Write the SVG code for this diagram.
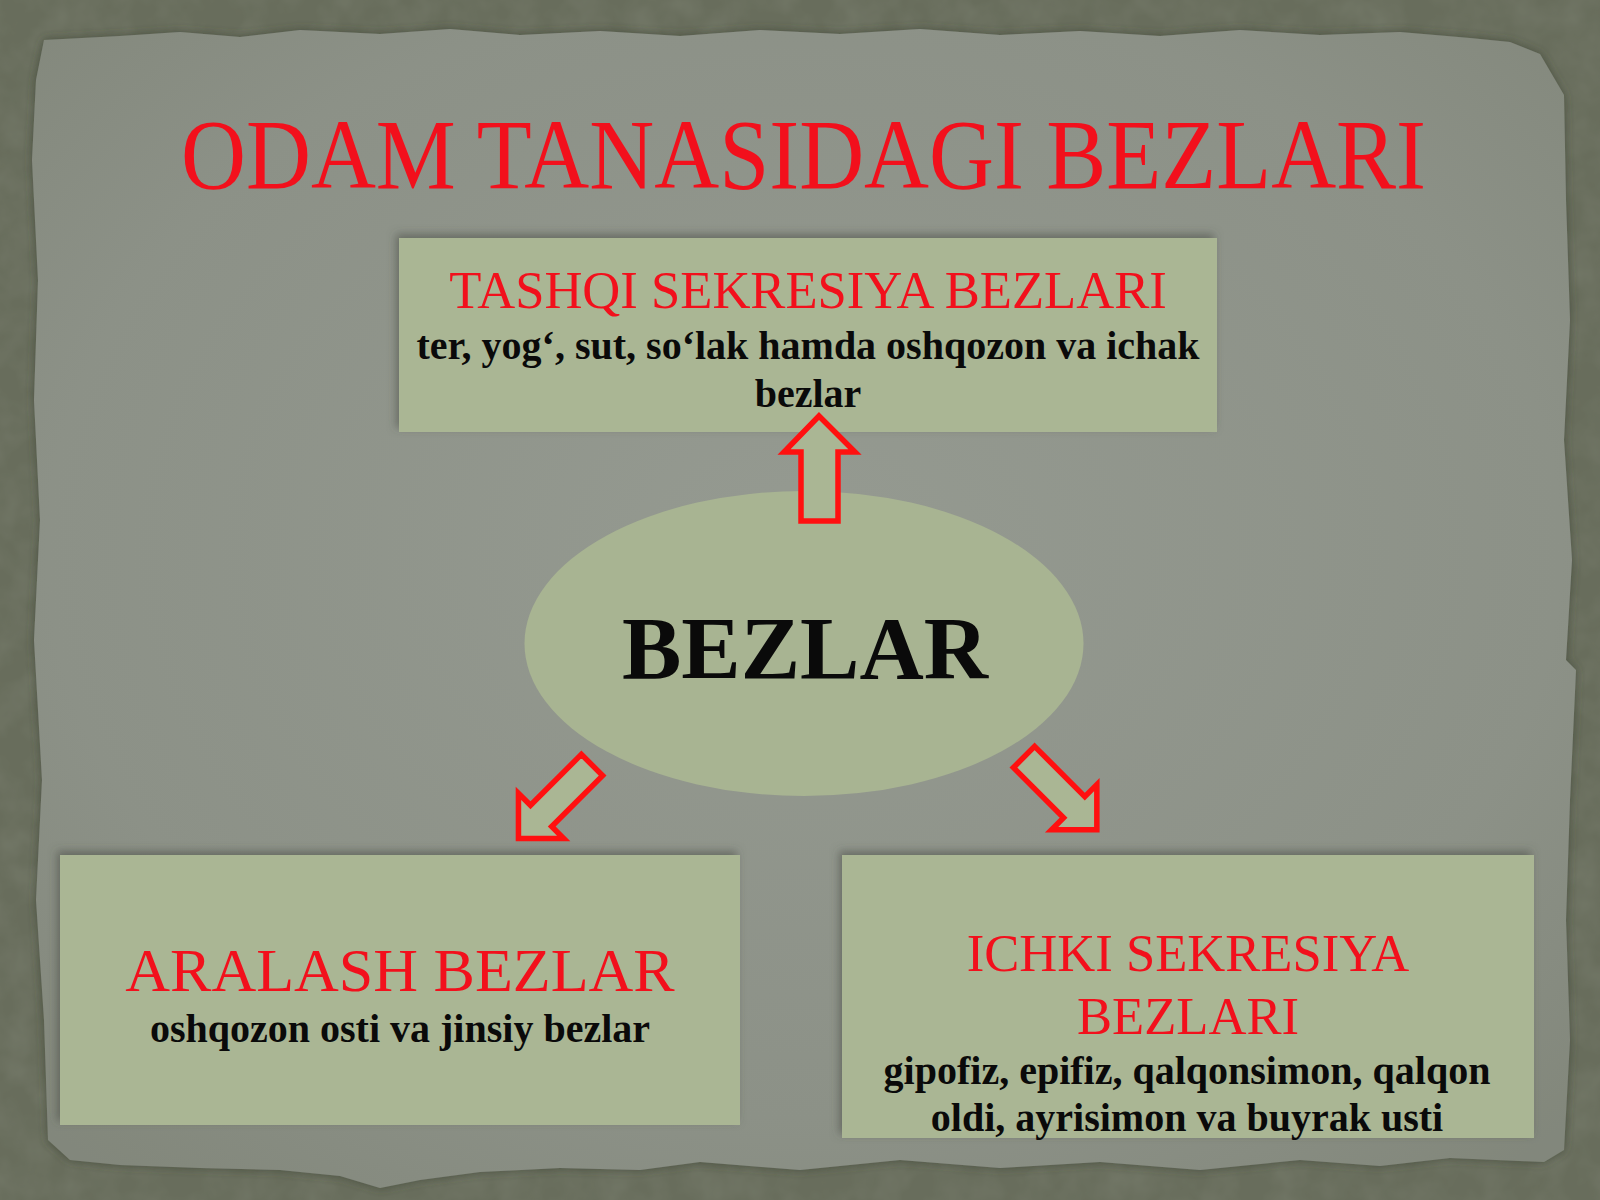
<svg xmlns="http://www.w3.org/2000/svg" width="1600" height="1200" viewBox="0 0 1600 1200">
  <style>
    .serif { font-family: "Liberation Serif", "Times New Roman", serif; }
    .red { fill: #f2101c; }
    .black { fill: #0a0a0a; font-weight: bold; }
    .box { fill: #aab694; filter: url(#boxShadow); }
    .blockArrow { fill: #aab694; stroke: #ff1010; stroke-width: 5.5; stroke-linejoin: miter; }
  </style>
  <defs>
    <radialGradient id="paperGrad" cx="0.5" cy="0.45" r="0.7">
      <stop offset="0" stop-color="#959a91"/>
      <stop offset="0.7" stop-color="#8c9187"/>
      <stop offset="1" stop-color="#82877b"/>
    </radialGradient>
    <filter id="noise" x="0" y="0" width="100%" height="100%">
      <feTurbulence type="fractalNoise" baseFrequency="0.03" numOctaves="3" seed="4" result="t"/>
      <feColorMatrix in="t" type="matrix" values="0 0 0 0 0.28  0 0 0 0 0.30  0 0 0 0 0.24  0 0 0 0.9 -0.3"/>
    </filter>
    <filter id="paperEdge" x="-5%" y="-5%" width="110%" height="110%">
      <feDropShadow dx="0" dy="0" stdDeviation="5" flood-color="#3e4236" flood-opacity="0.7"/>
    </filter>
    <filter id="boxShadow" x="-5%" y="-10%" width="110%" height="120%">
      <feDropShadow dx="-3" dy="-4" stdDeviation="4" flood-color="#4a4d45" flood-opacity="0.55"/>
    </filter>
  </defs>

  <!-- backdrop -->
  <rect x="0" y="0" width="1600" height="1200" fill="#686d5c"/>
  <rect x="0" y="0" width="1600" height="1200" filter="url(#noise)" opacity="0.45"/>

  <!-- torn paper -->
  <path filter="url(#paperEdge)" fill="url(#paperGrad)" d="M 44 40 L 120 36 L 180 32 L 240 37 L 300 30 L 380 34 L 450 29 L 520 35 L 600 31 L 680 36 L 760 30 L 840 34 L 920 29 L 1000 35 L 1080 31 L 1160 36 L 1240 30 L 1320 35 L 1400 32 L 1470 38 L 1510 42 L 1540 54 L 1564 95 L 1566 200 L 1570 320 L 1564 440 L 1572 560 L 1566 660 L 1576 670 L 1570 800 L 1566 920 L 1570 1040 L 1564 1150 L 1544 1162 L 1450 1158 L 1380 1166 L 1300 1160 L 1200 1170 L 1100 1162 L 1000 1168 L 900 1160 L 800 1170 L 700 1162 L 640 1170 L 560 1168 L 480 1172 L 420 1180 L 380 1188 L 340 1176 L 280 1170 L 200 1168 L 120 1165 L 70 1160 L 48 1140 L 44 1020 L 36 900 L 42 780 L 34 640 L 40 520 L 34 400 L 38 280 L 32 160 L 36 80 Z"/>

  <!-- title -->
  <g id="title">
    <text class="serif red" x="803.5" y="188" font-size="100" text-anchor="middle" textLength="1245" lengthAdjust="spacingAndGlyphs">ODAM TANASIDAGI BEZLARI</text>
  </g>

  <!-- nodes -->
  <g id="node-tashqi">
    <rect class="box" x="399" y="238" width="818" height="194"/>
    <text class="serif red" x="808" y="308" font-size="52.6" text-anchor="middle">TASHQI SEKRESIYA BEZLARI</text>
    <text class="serif black" x="808" y="359" font-size="40" text-anchor="middle">ter, yog‘, sut, so‘lak hamda oshqozon va ichak</text>
    <text class="serif black" x="808" y="407" font-size="40" text-anchor="middle">bezlar</text>
  </g>

  <g id="node-bezlar">
    <ellipse cx="804" cy="643.5" rx="279.5" ry="152.5" fill="#a8b492"/>
    <text class="serif black" x="805" y="678" font-size="89" text-anchor="middle">BEZLAR</text>
  </g>

  <g id="node-aralash">
    <rect class="box" x="60" y="855" width="680" height="270"/>
    <text class="serif red" x="400" y="991" font-size="62" text-anchor="middle">ARALASH BEZLAR</text>
    <text class="serif black" x="400" y="1042" font-size="40" text-anchor="middle">oshqozon osti va jinsiy bezlar</text>
  </g>

  <g id="node-ichki">
    <rect class="box" x="842" y="855" width="692" height="283"/>
    <text class="serif red" x="1188" y="971" font-size="52.6" text-anchor="middle">ICHKI SEKRESIYA</text>
    <text class="serif red" x="1188" y="1034" font-size="52.6" text-anchor="middle">BEZLARI</text>
    <text class="serif black" x="1187" y="1084" font-size="40" text-anchor="middle">gipofiz, epifiz, qalqonsimon, qalqon</text>
    <text class="serif black" x="1187" y="1131" font-size="40" text-anchor="middle">oldi, ayrisimon va buyrak usti</text>
  </g>

  <!-- connectors -->
  <g id="connectors">
    <polygon class="blockArrow" points="819,416 855,452 838,452 838,521 801,521 801,452 784,452"/>
    <polygon class="blockArrow" transform="translate(592,765) rotate(135)" points="0,-15 72,-15 72,-32 104,0 72,32 72,15 0,15"/>
    <polygon class="blockArrow" transform="translate(1024,757) rotate(45)" points="0,-15 71,-15 71,-32 103,0 71,32 71,15 0,15"/>
  </g>
</svg>
